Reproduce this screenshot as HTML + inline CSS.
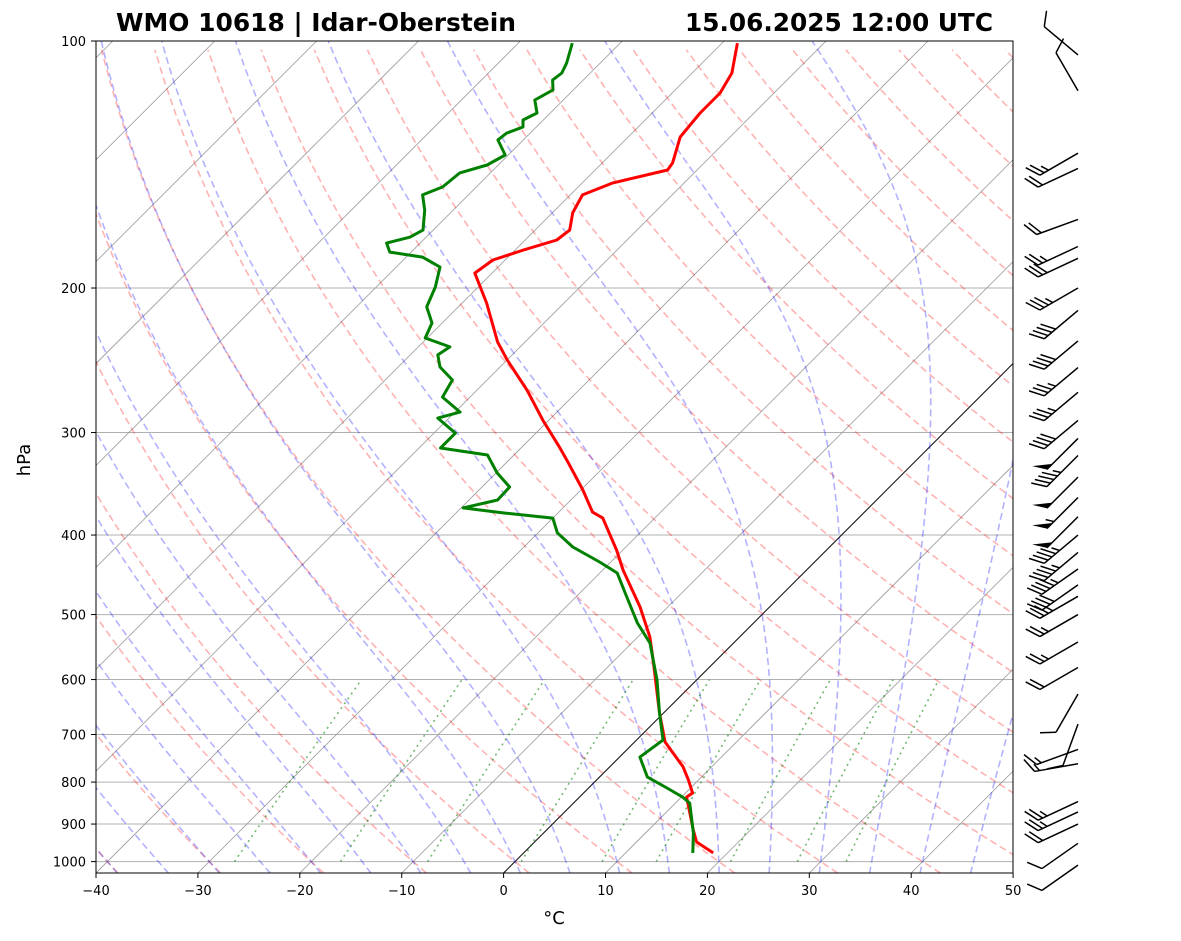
<!DOCTYPE html>
<html><head><meta charset="utf-8"><style>
html,body{margin:0;padding:0;background:#fff;}
svg{display:block;font-family:"DejaVu Sans","Liberation Sans",sans-serif;}
</style></head><body>
<svg id="chart" width="1181" height="941" viewBox="0 0 1181 941" xmlns="http://www.w3.org/2000/svg">
<defs><clipPath id="clip"><rect x="96" y="41" width="917" height="832"/></clipPath></defs>
<rect width="1181" height="941" fill="#fff"/>
<text x="116" y="31" font-size="24.5" font-weight="bold" textLength="400" lengthAdjust="spacingAndGlyphs">WMO 10618 | Idar-Oberstein</text>
<text x="685" y="31" font-size="24.5" font-weight="bold" textLength="308" lengthAdjust="spacingAndGlyphs">15.06.2025 12:00 UTC</text>
<g id="bg" clip-path="url(#clip)"></g>
<g id="data" clip-path="url(#clip)"></g>
<rect x="96" y="41" width="917" height="832" fill="none" stroke="#000" stroke-width="1"/>
<g id="axes"></g>
<g id="barbs"></g>
<text x="0" y="0" font-size="18" text-anchor="middle" transform="translate(30,460) rotate(-90)">hPa</text>
<text x="554" y="924" font-size="18" text-anchor="middle">°C</text>
</svg>
<script>
const tempP=[100.6,109.4,115.7,122.4,130.9,140.8,143.6,148.9,154.0,162.0,170.0,174.8,179.8,184.9,191.8,208.6,232.7,244.7,266.3,289.7,312.6,324.2,352.5,375.0,381.4,417.2,441.3,489.6,532.5,572.8,659.1,715.0,766.6,795.2,824.9,834.2,915.3,946.5,976.0];
const tempT=[-58.5,-56.1,-55.3,-55.3,-54.9,-53.1,-52.9,-57.0,-58.8,-58.0,-56.6,-56.9,-59.2,-61.2,-61.7,-57.6,-52.7,-50.0,-45.1,-40.6,-36.3,-34.3,-29.8,-26.7,-25.1,-20.6,-18.0,-12.7,-8.8,-5.9,-0.4,3.0,7.2,9.0,10.7,10.5,14.4,15.9,18.6];
const dewP=[100.6,106.4,109.4,111.6,114.7,118.0,122.4,124.8,127.3,129.5,132.0,137.7,141.6,144.8,150.6,154.0,160.7,170.0,173.4,176.3,180.8,183.4,188.6,199.5,210.9,220.6,230.1,235.9,241.3,249.6,258.9,271.6,283.3,288.1,300.5,312.6,313.3,319.5,336.0,349.5,362.5,370.7,375.9,381.4,397.6,413.6,431.4,444.9,475.9,512.0,541.6,600.6,659.1,711.1,745.8,788.8,813.5,834.2,848.5,922.9,976.0];
const dewT=[-74.7,-73.3,-72.8,-73.0,-72.0,-72.8,-71.3,-72.0,-71.3,-72.3,-72.5,-70.3,-71.1,-73.0,-73.3,-74.5,-72.8,-71.0,-71.6,-73.3,-72.1,-68.4,-65.7,-64.2,-63.1,-61.0,-60.2,-56.9,-57.3,-55.9,-53.4,-52.7,-49.5,-51.1,-47.9,-47.9,-47.9,-42.6,-39.9,-37.3,-37.2,-39.8,-35.4,-30.0,-28.1,-25.2,-21.1,-18.3,-15.0,-11.4,-8.2,-3.9,-0.4,2.6,2.0,4.7,7.7,10.1,11.4,14.7,16.6];
const windP=[104,115,137,143,165,178,184,200,213,232,250,268,290,305,320,340,360,380,400,420,440,460,475,500,540,580,625,680,730,760,845,870,900,950,1010];
const windSpd=[10,10,25,20,20,25,30,35,40,40,35,35,40,50,45,50,55,50,45,45,45,40,35,25,25,20,10,10,15,15,25,25,20,10,10];
const windDir=[310,330,240,245,250,245,245,240,230,230,230,230,230,225,225,225,225,225,230,230,235,235,240,240,240,240,210,200,250,260,245,245,245,235,235];
const xTicks=[-40,-30,-20,-10,0,10,20,30,40,50];
const pTicks=[100,200,300,400,500,600,700,800,900,1000];
const mixRatios=[0.0004,0.001,0.002,0.004,0.007,0.01,0.016,0.024,0.032];

const NS="http://www.w3.org/2000/svg";
const PBOT=1032.5;
function yp(p){return 41+820.6*Math.log10(p/100);}
function xt(T,p){return 96+(T+40)*10.19+(873-yp(p));}
function mk(tag,attrs,parent){const e=document.createElementNS(NS,tag);for(const k in attrs)e.setAttribute(k,attrs[k]);parent.appendChild(e);return e;}
function pathFrom(pts){return pts.map((q,i)=>(i?'L':'M')+xt(q[1],q[0]).toFixed(1)+','+yp(q[0]).toFixed(1)).join(' ');}
const bg=document.getElementById('bg'),dg=document.getElementById('data'),ax=document.getElementById('axes'),bb=document.getElementById('barbs');

for(const p of pTicks){
  const l=mk('line',{x1:96,x2:1013,y1:yp(p),y2:yp(p),stroke:'#b0b0b0','stroke-width':1},bg);
  
  
}
for(let T=-150;T<=50;T+=10){
  const l=mk('path',{d:pathFrom([[PBOT,T],[100,T]]),stroke:T===0?'#000':'#999',fill:'none','stroke-width':T===0?1:0.8},bg);
  
  
}
for(let t0=-40;t0<=200;t0+=10){
  const pts=[];
  for(let p=PBOT;p>=99;p-=10){pts.push([p,(t0+273.15)*Math.pow(p/1000,0.2857)-273.15]);}
  const l=mk('path',{d:pathFrom(pts),stroke:'rgba(255,0,0,0.3)',fill:'none','stroke-width':1.6,'stroke-dasharray':'7,4'},bg);
  
  
}
function es(T){return 6.112*Math.exp(17.67*T/(T+243.5));}
function dTdp(p,T){const Tk=T+273.15;const rs=0.622*es(T)/(p-es(T));const Rd=287,Lv=2.501e6,cp=1005;
  return (Rd*Tk+Lv*rs)/(p*(cp+Lv*Lv*rs*0.622/(Rd*Tk*Tk)));}
for(let t0=-40;t0<=50;t0+=5){
  const up=[[1000,t0]];let T=t0;
  for(let p=1000;p>100;p-=2){T-=dTdp(p,T)*2;up.push([p-2,T]);}
  T=t0;const dn=[];for(let p=1000;p<PBOT;p+=2){T+=dTdp(p,T)*2;dn.push([p+2,T]);}
  const pts=dn.reverse().concat(up);
  const l=mk('path',{d:pathFrom(pts),stroke:'rgba(0,0,255,0.3)',fill:'none','stroke-width':1.6,'stroke-dasharray':'7,4'},bg);
  
  
}
for(const w of mixRatios){
  const pts=[];
  for(let p=1000;p>=600;p-=20){const e=p*w/(0.622+w);const a=Math.log(e/6.112);pts.push([p,243.5*a/(17.67-a)]);}
  const l=mk('path',{d:pathFrom(pts),stroke:'rgba(0,128,0,0.55)',fill:'none','stroke-width':1.6,'stroke-dasharray':'2,4'},bg);
  
  
}
const tl=mk('path',{d:pathFrom(tempP.map((p,i)=>[p,tempT[i]])),stroke:'#f00',fill:'none','stroke-width':3,'stroke-linejoin':'round'},dg);


const dl=mk('path',{d:pathFrom(dewP.map((p,i)=>[p,dewT[i]])),stroke:'#008000',fill:'none','stroke-width':3,'stroke-linejoin':'round'},dg);



for(const T of xTicks){
  const x=96+(T+40)*10.19;
  const tk=mk('line',{x1:x,x2:x,y1:873,y2:878,stroke:'#000'},ax);
  
  
  const t=mk('text',{x:x,y:895,'font-size':13,'text-anchor':'middle'},ax);
  t.textContent=(T<0?'\u2212'+(-T):T);
  
  
}
for(const p of pTicks){
  const y=yp(p);
  const tk=mk('line',{x1:91,x2:96,y1:y,y2:y,stroke:'#000'},ax);
  
  
  const t=mk('text',{x:86,y:y+5,'font-size':13,'text-anchor':'end'},ax);
  t.textContent=p;
  
  
}
windP.forEach((p,i)=>{
  const bx=1078,by=yp(p),L=44,d=windDir[i]*Math.PI/180;
  const ux=Math.sin(d),uy=-Math.cos(d);
  const tx=bx+ux*L,ty=by+uy*L;
  const g=mk('g',{},bb);
  
  
  mk('line',{x1:bx,y1:by,x2:tx,y2:ty,stroke:'#000','stroke-width':1.5},g);
  const px=-uy,py=ux;
  let s=Math.round(windSpd[i]/5)*5,pos=0;
  const bar=(len)=>{const sx=tx-ux*pos,sy=ty-uy*pos;
    mk('line',{x1:sx,y1:sy,x2:sx+px*len*0.8+ux*len*0.5,y2:sy+py*len*0.8+uy*len*0.5,stroke:'#000','stroke-width':1.5},g);};
  while(s>=50){const sx=tx-ux*pos,sy=ty-uy*pos;const H=16;
    mk('polygon',{points:`${sx},${sy} ${sx+px*H*0.8+ux*H*0.5},${sy+py*H*0.8+uy*H*0.5} ${sx-ux*8},${sy-uy*8}`,fill:'#000'},g);pos+=10;s-=50;}
  while(s>=10){bar(17);pos+=5;s-=10;}
  if(s>=5){if(pos===0)pos=5;bar(9);}
});
</script>
</body></html>
